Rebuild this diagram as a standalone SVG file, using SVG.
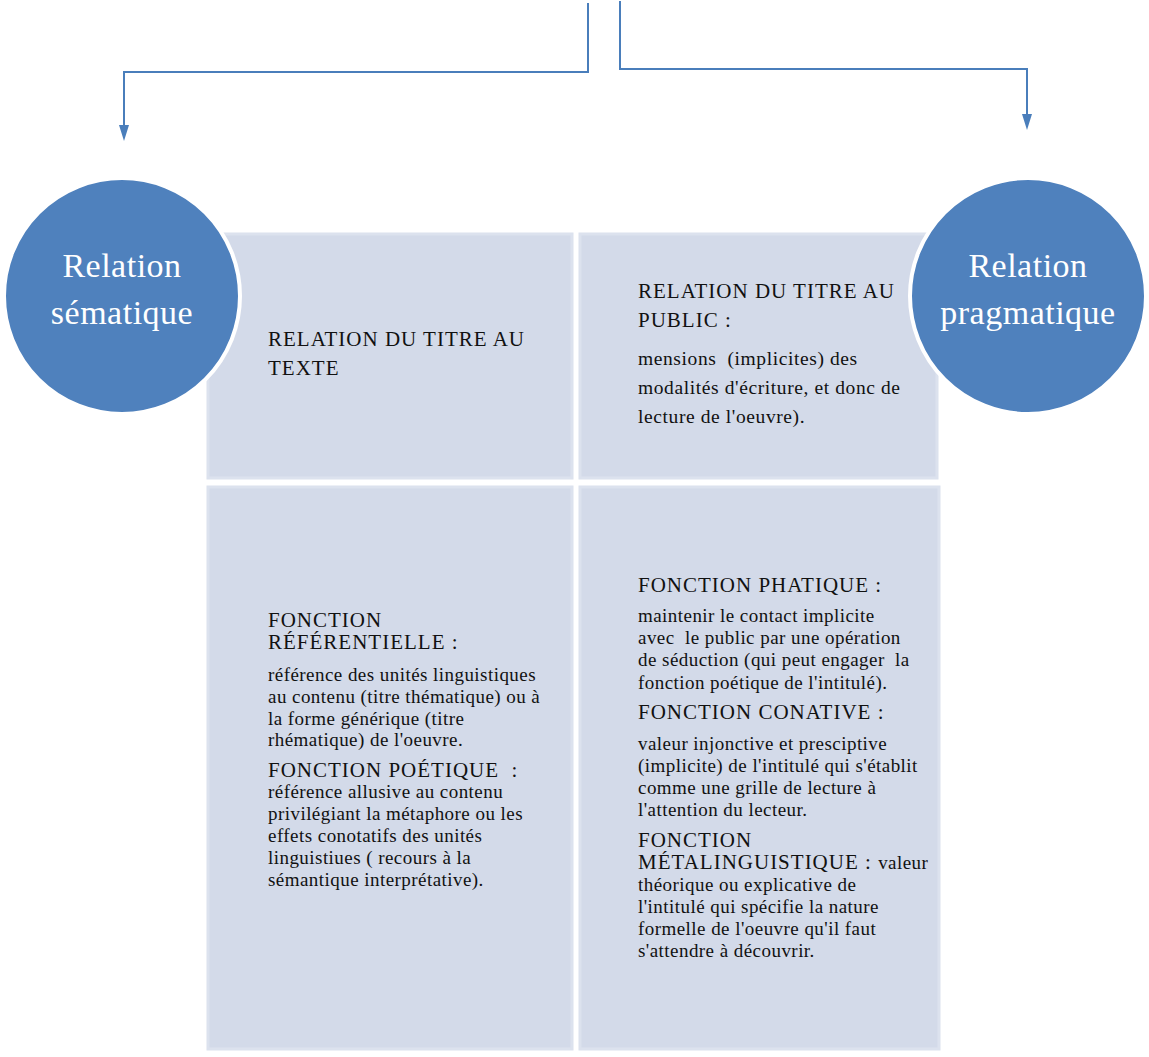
<svg xmlns="http://www.w3.org/2000/svg" width="1149" height="1057" viewBox="0 0 1149 1057">
<style>
.box{fill:#D3DAE9;stroke:#DCE2EE;stroke-width:3}
.circ{fill:#4F81BD;stroke:#FFFFFF;stroke-width:4}
.ctxt{font-family:"Liberation Serif",serif;font-size:34px;letter-spacing:0.5px;fill:#FFFFFF;text-anchor:middle}
.h{font-family:"Liberation Serif",serif;font-size:21px;letter-spacing:1px;fill:#111111}
.b{font-family:"Liberation Serif",serif;font-size:19px;letter-spacing:0.45px;fill:#111111}
.bt{font-family:"Liberation Serif",serif;font-size:19.5px;letter-spacing:0.6px;fill:#111111}
.conn{fill:none;stroke:#4A7EBB;stroke-width:2}
.ah{fill:#4A7EBB}
</style>
<g id="connectors">
<path class="conn" d="M588,3 V72 H124 V126"/>
<path class="ah" d="M119,125 L129,125 L124,141 Z"/>
<path class="conn" d="M620,1 V69 H1027 V115"/>
<path class="ah" d="M1022,114 L1032,114 L1027,130 Z"/>
</g>
<g id="box-tl">
<rect class="box" x="208" y="234" width="364" height="244"/>
<text class="h" x="268" y="346">RELATION DU TITRE AU</text>
<text class="h" x="268" y="375">TEXTE</text>
</g>
<g id="box-tr">
<rect class="box" x="580" y="234" width="357" height="244"/>
<text class="h" x="638" y="298">RELATION DU TITRE AU</text>
<text class="h" x="638" y="327">PUBLIC :</text>
<text class="bt" x="638" y="365" xml:space="preserve">mensions  (implicites) des</text>
<text class="bt" x="638" y="394">modalités d'écriture, et donc de</text>
<text class="bt" x="638" y="423">lecture de l'oeuvre).</text>
</g>
<g id="box-bl">
<rect class="box" x="208" y="487" width="364" height="562"/>
<text class="h" x="268" y="627">FONCTION</text>
<text class="h" x="268" y="649">RÉFÉRENTIELLE :</text>
<text class="b" x="268" y="681">référence des unités linguistiques</text>
<text class="b" x="268" y="703">au contenu (titre thématique) ou à</text>
<text class="b" x="268" y="725">la forme générique (titre</text>
<text class="b" x="268" y="746">rhématique) de l'oeuvre.</text>
<text class="h" x="268" y="777" xml:space="preserve">FONCTION POÉTIQUE  :</text>
<text class="b" x="268" y="798">référence allusive au contenu</text>
<text class="b" x="268" y="820">privilégiant la métaphore ou les</text>
<text class="b" x="268" y="842">effets conotatifs des unités</text>
<text class="b" x="268" y="864">linguistiues ( recours à la</text>
<text class="b" x="268" y="886">sémantique interprétative).</text>
</g>
<g id="box-br">
<rect class="box" x="580" y="487" width="359" height="562"/>
<text class="h" x="638" y="592">FONCTION PHATIQUE :</text>
<text class="b" x="638" y="622">maintenir le contact implicite</text>
<text class="b" x="638" y="644" xml:space="preserve">avec  le public par une opération</text>
<text class="b" x="638" y="666" xml:space="preserve">de séduction (qui peut engager  la</text>
<text class="b" x="638" y="689">fonction poétique de l'intitulé).</text>
<text class="h" x="638" y="719">FONCTION CONATIVE :</text>
<text class="b" x="638" y="750">valeur injonctive et presciptive</text>
<text class="b" x="638" y="772">(implicite) de l'intitulé qui s'établit</text>
<text class="b" x="638" y="794">comme une grille de lecture à</text>
<text class="b" x="638" y="816">l'attention du lecteur.</text>
<text class="h" x="638" y="847">FONCTION</text>
<text class="h" x="638" y="869">MÉTALINGUISTIQUE : <tspan class="b">valeur</tspan></text>
<text class="b" x="638" y="891">théorique ou explicative de</text>
<text class="b" x="638" y="913">l'intitulé qui spécifie la nature</text>
<text class="b" x="638" y="935">formelle de l'oeuvre qu'il faut</text>
<text class="b" x="638" y="957">s'attendre à découvrir.</text>
</g>
<g id="circle-left">
<circle class="circ" cx="122" cy="296" r="118"/>
<text class="ctxt" x="122" y="277">Relation</text>
<text class="ctxt" x="122" y="324">sématique</text>
</g>
<g id="circle-right">
<circle class="circ" cx="1028" cy="296" r="118"/>
<text class="ctxt" x="1028" y="277">Relation</text>
<text class="ctxt" x="1028" y="324">pragmatique</text>
</g>
</svg>
